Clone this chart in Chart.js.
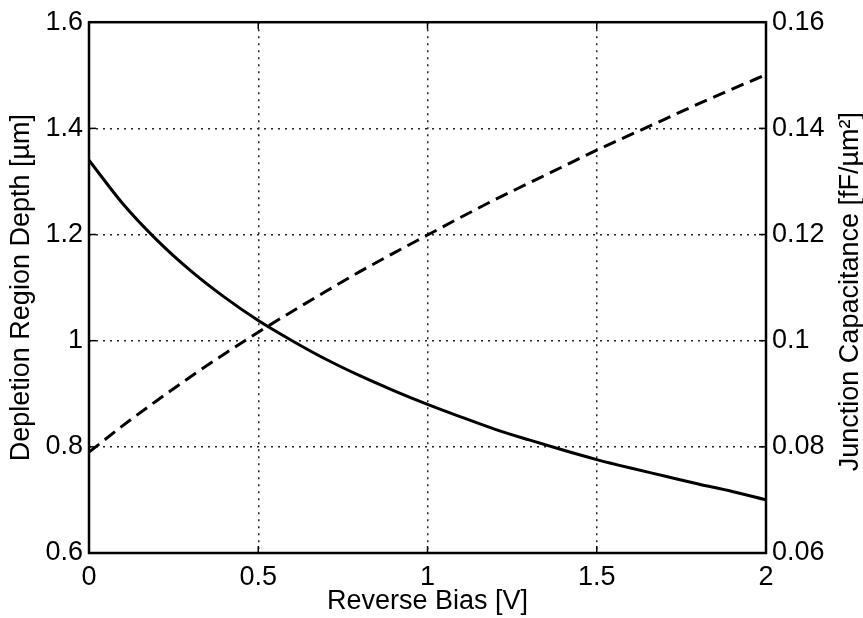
<!DOCTYPE html>
<html>
<head>
<meta charset="utf-8">
<title>Depletion depth / junction capacitance</title>
<script src="https://cdn.jsdelivr.net/npm/chart.js@4.4.0/dist/chart.umd.min.js"></script>
<style>
  html, body { margin: 0; padding: 0; background: #fff; }
  #wrap { width: 863px; height: 618px; position: relative; }
</style>
</head>
<body>
<div id="wrap"><canvas id="chart"></canvas></div>
<script>
'use strict';

// ── Data ─────────────────────────────────────────────────────────
const biasV     = [0, 0.1, 0.2, 0.3, 0.4, 0.5, 0.6, 0.7, 0.8, 0.9, 1.0,
                   1.1, 1.2, 1.3, 1.4, 1.5, 1.6, 1.7, 1.8, 1.9, 2.0];
const depthUm   = [0.790, 0.840, 0.887, 0.932, 0.975, 1.016, 1.055, 1.093, 1.130, 1.165, 1.199,
                   1.233, 1.266, 1.297, 1.328, 1.359, 1.388, 1.417, 1.446, 1.474, 1.501];
const capFFum2  = [0.1340, 0.1258, 0.1190, 0.1132, 0.1082, 0.1038, 0.1000, 0.0965, 0.0934, 0.0906, 0.0880,
                   0.0856, 0.0833, 0.0813, 0.0794, 0.0776, 0.0760, 0.0745, 0.0730, 0.0716, 0.0700];

const biasTicks  = [0, 0.5, 1, 1.5, 2];
const depthTicks = [0.6, 0.8, 1, 1.2, 1.4, 1.6];
const capTicks   = [0.06, 0.08, 0.1, 0.12, 0.14, 0.16];

// ── Styling helpers ──────────────────────────────────────────────
const FONT = "'Liberation Sans', Arial, Helvetica, sans-serif";
const SIZE = 27;
const INK  = '#000';
const fmt  = v => String(parseFloat(Number(v).toFixed(3)));
const useTicks = arr => scale => { scale.ticks = arr.map(v => ({ value: v })); };
const dotted = { display: false, dash: [2, 5] };

// frame + inward MATLAB-style tick marks + right-hand title
const framePlugin = {
    id: 'frame',
    afterDraw(chart) {
        const { ctx, chartArea: a, scales } = chart;
        const len = 7;
        ctx.save();
        ctx.strokeStyle = INK;
        ctx.lineWidth = 1.5;
        biasTicks.forEach(v => {
            const px = scales.x.getPixelForValue(v);
            ctx.beginPath();
            ctx.moveTo(px, a.bottom); ctx.lineTo(px, a.bottom - len);
            ctx.moveTo(px, a.top);    ctx.lineTo(px, a.top + len);
            ctx.stroke();
        });
        depthTicks.forEach(v => {
            const py = scales.yDepth.getPixelForValue(v);
            ctx.beginPath();
            ctx.moveTo(a.left, py); ctx.lineTo(a.left + len, py);
            ctx.stroke();
        });
        capTicks.forEach(v => {
            const py = scales.yCap.getPixelForValue(v);
            ctx.beginPath();
            ctx.moveTo(a.right, py); ctx.lineTo(a.right - len, py);
            ctx.stroke();
        });
        ctx.lineWidth = 2.5;
        ctx.strokeRect(a.left, a.top, a.right - a.left, a.bottom - a.top);

        // right axis title, reading bottom-to-top like the left one
        ctx.fillStyle = INK;
        ctx.font = `${SIZE}px ${FONT}`;
        ctx.textAlign = 'center';
        ctx.textBaseline = 'alphabetic';
        ctx.translate(858, (a.top + a.bottom) / 2 + 4);
        ctx.rotate(-Math.PI / 2);
        ctx.fillText('Junction Capacitance [fF/\u00B5m\u00B2]', 0, 0);
        ctx.restore();
    }
};

new Chart(document.getElementById('chart'), {
    type: 'line',
    data: {
        datasets: [
            {
                label: 'Depletion Region Depth',
                data: biasV.map((x, i) => ({ x, y: depthUm[i] })),
                yAxisID: 'yDepth',
                borderColor: INK,
                borderWidth: 3,
                borderDash: [13, 7],
                pointRadius: 0,
                cubicInterpolationMode: 'monotone',
            },
            {
                label: 'Junction Capacitance',
                data: biasV.map((x, i) => ({ x, y: capFFum2[i] })),
                yAxisID: 'yCap',
                borderColor: INK,
                borderWidth: 3,
                pointRadius: 0,
                cubicInterpolationMode: 'monotone',
            }
        ]
    },
    options: {
        responsive: true,
        maintainAspectRatio: false,
        animation: false,
        devicePixelRatio: 1,
        layout: { padding: { top: 19, left: 0, right: 0, bottom: 0 } },
        plugins: { legend: { display: false }, tooltip: { enabled: false } },
        scales: {
            x: {
                type: 'linear',
                min: 0, max: 2,
                afterBuildTicks: useTicks(biasTicks),
                afterFit: s => { s.height = 65; },
                border: dotted,
                grid: {
                    drawTicks: false,
                    lineWidth: 1.5,
                    color: c => (c.tick && (c.tick.value === 0 || c.tick.value === 2)) ? 'rgba(0,0,0,0)' : '#222',
                },
                ticks: { color: INK, padding: 8, maxRotation: 0, font: { family: FONT, size: SIZE }, callback: fmt },
                title: { display: true, text: 'Reverse Bias [V]', color: INK, padding: 0, font: { family: FONT, size: SIZE } }
            },
            yDepth: {
                position: 'left',
                min: 0.6, max: 1.6,
                afterBuildTicks: useTicks(depthTicks),
                afterFit: s => { s.width = 89; },
                border: dotted,
                grid: {
                    drawTicks: false,
                    lineWidth: 1.5,
                    color: c => (c.tick && (c.tick.value === 0.6 || c.tick.value === 1.6)) ? 'rgba(0,0,0,0)' : '#222',
                },
                ticks: { color: INK, padding: 6, font: { family: FONT, size: SIZE }, callback: fmt },
                title: { display: true, text: 'Depletion Region Depth [\u00B5m]', color: INK, padding: { top: 5, bottom: 0 }, font: { family: FONT, size: SIZE } }
            },
            yCap: {
                position: 'right',
                min: 0.06, max: 0.16,
                afterBuildTicks: useTicks(capTicks),
                afterFit: s => { s.width = 97; },
                border: { display: false },
                grid: { display: false, drawTicks: false },
                ticks: { color: INK, padding: 6, font: { family: FONT, size: SIZE }, callback: fmt }
            }
        }
    },
    plugins: [framePlugin]
});
</script>
</body>
</html>
